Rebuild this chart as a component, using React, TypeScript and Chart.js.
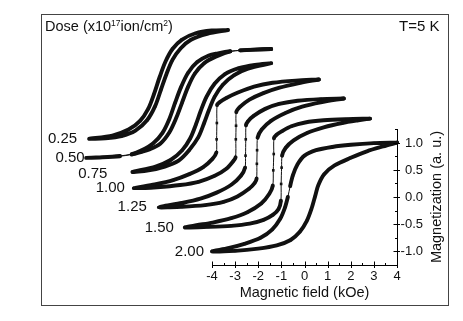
import React, { useEffect, useRef } from 'react';
import { Chart, registerables } from 'chart.js';

Chart.register(...registerables);

const FONT = '"Liberation Sans", Arial, Helvetica, sans-serif';

const doses = ['0.25', '0.50', '0.75', '1.00', '1.25', '1.50', '2.00'];
// stacking offsets of each loop (kOe, a.u.) as in the figure
const fieldOffsets = [-6.31, -5.44, -4.44, -3.38, -2.3, -1.17, 0];
const magOffsets = [2.07, 1.72, 1.46, 1.16, 0.81, 0.44, 0];

// descending-field branches [H (kOe), M (a.u.)]
const down025 = [[3, 1.0], [2.3, 0.99], [1.6, 0.94], [1.0, 0.82], [0.6, 0.65], [0.3, 0.42], [0.05, 0.14], [-0.2, -0.18], [-0.45, -0.45], [-0.8, -0.67], [-1.3, -0.83], [-2.0, -0.94], [-3, -1.0]];
const up025 = [[-3, -1.0], [-2.3, -0.99], [-1.6, -0.95], [-1.0, -0.85], [-0.5, -0.66], [-0.15, -0.4], [0.1, -0.1], [0.35, 0.2], [0.6, 0.45], [0.95, 0.66], [1.4, 0.82], [2.1, 0.93], [3, 1.0]];

const down050 = [[4, 1.0], [3.3, 0.99], [2.66, 0.975], [2.23, 0.96], [1.7, 0.92], [1.3, 0.88], [0.8, 0.76], [0.4, 0.56], [0.1, 0.3], [-0.15, 0.02], [-0.4, -0.28], [-0.7, -0.54], [-1.1, -0.73], [-1.6, -0.86], [-2.03, -0.93], [-2.54, -0.965], [-3.3, -0.99], [-4, -1.0]];
const up050 = [[-4, -1.0], [-3.3, -0.99], [-2.54, -0.97], [-2.03, -0.94], [-1.6, -0.89], [-1.3, -0.85], [-0.8, -0.74], [-0.4, -0.53], [-0.1, -0.26], [0.15, 0.02], [0.4, 0.3], [0.7, 0.55], [1.1, 0.74], [1.6, 0.86], [2.23, 0.955], [2.66, 0.975], [3.3, 0.99], [4, 1.0]];

const down075 = [[3, 1.0], [2.3, 0.97], [1.6, 0.91], [1.0, 0.8], [0.55, 0.62], [0.2, 0.38], [-0.05, 0.12], [-0.25, -0.12], [-0.5, -0.38], [-0.85, -0.6], [-1.35, -0.78], [-2.0, -0.9], [-3, -1.0]];
const up075 = [[-3, -1.0], [-2.3, -0.97], [-1.6, -0.9], [-1.0, -0.79], [-0.55, -0.6], [-0.15, -0.36], [0.1, -0.1], [0.3, 0.13], [0.55, 0.38], [0.9, 0.6], [1.4, 0.78], [2.0, 0.9], [3, 1.0]];

const down100 = [[4, 1.0], [3, 0.98], [2, 0.94], [1.2, 0.87], [0.5, 0.76], [0, 0.66], [-0.3, 0.58], [-0.4, 0.53], [-0.41, 0.2], [-0.42, -0.1], [-0.43, -0.34], [-0.6, -0.46], [-1.0, -0.61], [-1.6, -0.74], [-2.3, -0.85], [-3.1, -0.93], [-4, -1.0]];
const up100 = [[-4, -1.0], [-3, -0.98], [-2, -0.94], [-1.2, -0.88], [-0.5, -0.77], [0, -0.64], [0.3, -0.5], [0.4, -0.43], [0.41, -0.1], [0.42, 0.15], [0.43, 0.4], [0.6, 0.5], [1.0, 0.63], [1.6, 0.75], [2.3, 0.85], [3.1, 0.93], [4, 1.0]];

const down125 = [[4, 1.0], [3, 0.99], [2, 0.96], [1.2, 0.9], [0.6, 0.81], [0.1, 0.68], [-0.15, 0.58], [-0.23, 0.51], [-0.24, 0.25], [-0.25, -0.05], [-0.27, -0.27], [-0.45, -0.42], [-0.85, -0.58], [-1.5, -0.73], [-2.2, -0.84], [-3.0, -0.92], [-4, -1.0]];
const up125 = [[-4, -1.0], [-3, -0.99], [-2, -0.96], [-1.2, -0.9], [-0.6, -0.8], [-0.1, -0.66], [0.15, -0.55], [0.23, -0.47], [0.24, -0.2], [0.25, 0.05], [0.27, 0.28], [0.45, 0.43], [0.85, 0.59], [1.5, 0.74], [2.2, 0.85], [3.0, 0.93], [4, 1.0]];

const down150 = [[4, 1.0], [3, 0.99], [2, 0.97], [1.2, 0.93], [0.6, 0.86], [0.2, 0.77], [-0.05, 0.7], [-0.15, 0.64], [-0.16, 0.35], [-0.18, 0.05], [-0.2, -0.23], [-0.35, -0.38], [-0.7, -0.56], [-1.3, -0.72], [-2.0, -0.83], [-2.8, -0.91], [-3.5, -0.96], [-4, -1.0]];
const up150 = [[-4, -1.0], [-3, -0.99], [-2, -0.97], [-1.2, -0.93], [-0.6, -0.86], [-0.2, -0.77], [0.05, -0.66], [0.15, -0.51], [0.16, -0.2], [0.18, 0.1], [0.2, 0.32], [0.35, 0.46], [0.7, 0.6], [1.3, 0.74], [2.0, 0.84], [2.8, 0.92], [3.5, 0.97], [4, 1.0]];

const down200 = [[4.0, 1.0], [3.0, 0.99], [2.0, 0.96], [1.2, 0.92], [0.5, 0.86], [0.0, 0.76], [-0.3, 0.6], [-0.5, 0.4], [-0.62, 0.2], [-0.72, 0.0], [-0.85, -0.2], [-1.05, -0.4], [-1.4, -0.6], [-1.9, -0.75], [-2.6, -0.86], [-3.3, -0.94], [-4.0, -1.0]];
const up200 = [[-4.0, -1.0], [-3.0, -0.99], [-2.0, -0.95], [-1.2, -0.89], [-0.6, -0.79], [-0.2, -0.64], [0.1, -0.44], [0.3, -0.22], [0.45, 0.0], [0.6, 0.22], [0.85, 0.42], [1.3, 0.58], [2.0, 0.72], [2.7, 0.84], [3.4, 0.93], [4.0, 1.0]];

const downBranches = [down025, down050, down075, down100, down125, down150, down200];
const upBranches = [up025, up050, up075, up100, up125, up150, up200];

// field intervals (local kOe) where a loop was measured sparsely (drawn as thin line)
const sparseRanges: number[][][] = [[], [[-2.54, -2.03], [2.23, 2.66]], [], [], [], [], []];

const xTickValues = [-4, -3, -2, -1, 0, 1, 2, 3, 4];
const yTickValues = [-1.0, -0.5, 0.0, 0.5, 1.0];

const xTitle = 'Magnetic field (kOe)';
const yTitle = 'Magnetization (a. u.)';
const tempLabel = 'T=5 K';

// label placement (pixel gap left of each loop's left tip, vertical shift)
const labelGap = [12, 1.5, 25, 9, 12, 11, 8];
const labelShift = [0, 0, 1.5, 0, 0, 0, 0];

const decor = {
  id: 'decor',
  afterDraw(chart: any) {
    const { ctx, chartArea, scales } = chart;
    const xs = scales.x;
    const ys = scales.y;
    ctx.save();
    // outer frame
    ctx.strokeStyle = '#444';
    ctx.lineWidth = 1;
    ctx.strokeRect(41.5, 14.5, 407, 291);

    // markers on points
    ctx.fillStyle = '#111';
    chart.data.datasets.forEach((_: any, i: number) => {
      const meta = chart.getDatasetMeta(i);
      meta.data.forEach((p: any) => {
        ctx.fillRect(p.x - 1.3, p.y - 1.3, 2.6, 2.6);
      });
    });

    // ticks
    ctx.strokeStyle = '#000';
    ctx.lineWidth = 1;
    ctx.beginPath();
    const by = Math.round(chartArea.bottom) + 0.5;
    for (let k = 0; k <= 16; k++) {
      const v = -4 + k * 0.5;
      const px = Math.round(xs.getPixelForValue(v)) + 0.5;
      const major = k % 2 === 0;
      ctx.moveTo(px, by - (major ? 4 : 2.5));
      ctx.lineTo(px, by + (major ? 2.5 : 0));
    }
    const rx = Math.round(chartArea.right) + 0.5;
    for (let k = 0; k <= 10; k++) {
      const v = -1.25 + k * 0.25;
      const py = Math.round(ys.getPixelForValue(v)) + 0.5;
      const major = k % 2 === 1;
      ctx.moveTo(rx - (major ? 4 : 2.5), py);
      ctx.lineTo(rx + (major ? 2.5 : 0), py);
    }
    ctx.stroke();

    ctx.fillStyle = '#111';
    // tick labels
    ctx.font = `13px ${FONT}`;
    ctx.textBaseline = 'middle';
    ctx.textAlign = 'center';
    xTickValues.forEach((v) => {
      ctx.fillText(String(v), xs.getPixelForValue(v), chartArea.bottom + 11);
    });
    ctx.textAlign = 'right';
    yTickValues.forEach((v) => {
      ctx.fillText(v.toFixed(1), chartArea.right + 26, ys.getPixelForValue(v) + 0.5);
    });

    // axis titles
    ctx.font = `14.5px ${FONT}`;
    ctx.textAlign = 'center';
    ctx.textBaseline = 'middle';
    ctx.fillText(xTitle, (chartArea.left + chartArea.right) / 2, chartArea.bottom + 27.5);
    ctx.save();
    ctx.translate(chartArea.right + 40, (chartArea.top + chartArea.bottom) / 2);
    ctx.rotate(-Math.PI / 2);
    ctx.fillText(yTitle, 0, 0);
    ctx.restore();

    // temperature
    ctx.font = `15px ${FONT}`;
    ctx.textAlign = 'right';
    ctx.textBaseline = 'alphabetic';
    ctx.fillText(tempLabel, 439.5, 30.7);

    // dose title with superscripts
    ctx.textAlign = 'left';
    let tx = 45;
    const base = 30.7;
    const parts: [string, number, number][] = [
      ['Dose (x10', 14.5, 0],
      ['17', 8.5, -5],
      ['ion/cm', 14.5, 0],
      ['2', 8.5, -5],
      [')', 14.5, 0],
    ];
    parts.forEach(([t, s, dy]) => {
      ctx.font = `${s}px ${FONT}`;
      ctx.fillText(t, tx, base + dy);
      tx += ctx.measureText(t).width;
    });

    // dose labels at left tips
    ctx.font = `15px ${FONT}`;
    ctx.textAlign = 'right';
    ctx.textBaseline = 'middle';
    doses.forEach((d, i) => {
      const tip = upBranches[i][0];
      const px = xs.getPixelForValue(tip[0] + fieldOffsets[i]);
      const py = ys.getPixelForValue(tip[1] + magOffsets[i]);
      ctx.fillText(d, px - labelGap[i], py + labelShift[i]);
    });
    ctx.restore();
  },
};

export default function App() {
  const ref = useRef<HTMLCanvasElement>(null);
  useEffect(() => {
    if (!ref.current) return;
    const datasets = doses.map((d, i) => {
      const raw = [...downBranches[i], ...upBranches[i].slice(1)];
      const pts = raw.map(([h, m]) => ({ x: h + fieldOffsets[i], y: m + magOffsets[i] }));
      const inSparse = (a: number, b: number) =>
        sparseRanges[i].some(([lo, hi]) => Math.min(a, b) >= lo - 1e-6 && Math.max(a, b) <= hi + 1e-6);
      return {
        label: d,
        data: pts,
        showLine: true,
        borderColor: '#111',
        backgroundColor: '#111',
        borderWidth: 3.9,
        pointRadius: 0,
        tension: 0.3,
        clip: false as any,
        fill: false,
        segment: {
          borderWidth: (c: any) => {
            const a = raw[c.p0DataIndex];
            const b = raw[c.p1DataIndex];
            if (a && b && inSparse(a[0], b[0])) return 1;
            const dx = Math.abs(c.p1.x - c.p0.x);
            const dy = Math.abs(c.p1.y - c.p0.y);
            return dy > 5 && dx < dy * 0.25 ? 1 : undefined;
          },
        },
      };
    });
    const chart = new Chart(ref.current, {
      type: 'scatter',
      data: { datasets },
      plugins: [decor],
      options: {
        responsive: false,
        animation: false,
        events: [],
        layout: { padding: { left: 212, top: 129, right: 26, bottom: 26 } },
        plugins: { legend: { display: false }, tooltip: { enabled: false } },
        elements: {
          line: { capBezierPoints: false, borderCapStyle: 'round', borderJoinStyle: 'round' },
          point: { radius: 0 },
        },
        scales: {
          x: {
            type: 'linear',
            position: 'bottom',
            min: -4,
            max: 4,
            grid: { display: false },
            border: { display: true, color: '#000', width: 1 },
            ticks: { display: false },
            afterBuildTicks: (s: any) => {
              s.ticks = xTickValues.map((v) => ({ value: v }));
            },
            afterFit: (s: any) => {
              s.height = 30;
            },
          },
          y: {
            type: 'linear',
            position: 'right',
            min: -1.25,
            max: 1.25,
            grid: { display: false },
            border: { display: true, color: '#000', width: 1 },
            ticks: { display: false },
            afterBuildTicks: (s: any) => {
              s.ticks = yTickValues.map((v) => ({ value: v }));
            },
            afterFit: (s: any) => {
              s.width = 40;
            },
          },
        },
      } as any,
    });
    return () => chart.destroy();
  }, []);
  return (
    <div style={{ position: 'fixed', left: 0, top: 0, width: 463, height: 321, background: '#fff' }}>
      <canvas ref={ref} width={463} height={321} style={{ display: 'block', width: 463, height: 321 }} />
    </div>
  );
}
